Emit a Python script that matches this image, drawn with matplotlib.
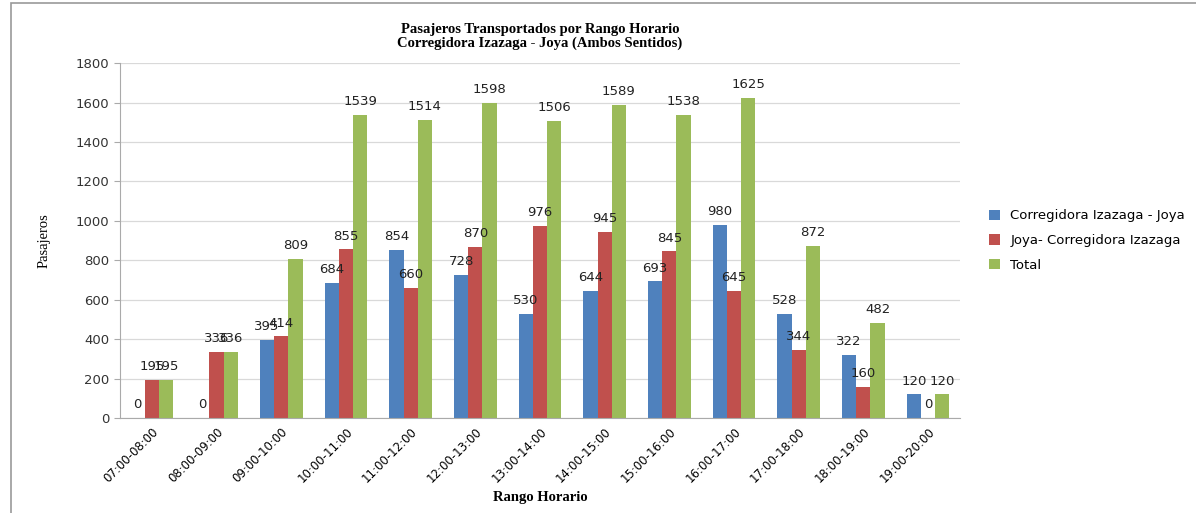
import matplotlib.pyplot as plt
import numpy as np
from matplotlib.patches import Rectangle

rangos = ["07:00-08:00", "08:00-09:00", "09:00-10:00", "10:00-11:00", "11:00-12:00",
          "12:00-13:00", "13:00-14:00", "14:00-15:00", "15:00-16:00", "16:00-17:00",
          "17:00-18:00", "18:00-19:00", "19:00-20:00"]
corr_joya = [0, 0, 395, 684, 854, 728, 530, 644, 693, 980, 528, 322, 120]
joya_corr = [195, 336, 414, 855, 660, 870, 976, 945, 845, 645, 344, 160, 0]
total = [195, 336, 809, 1539, 1514, 1598, 1506, 1589, 1538, 1625, 872, 482, 120]

series = [
    ("Corregidora Izazaga - Joya", corr_joya, "#4F81BD"),
    ("Joya- Corregidora Izazaga", joya_corr, "#C0504D"),
    ("Total", total, "#9BBB59"),
]

fig = plt.figure(figsize=(11.96, 5.13), dpi=100)
ax = fig.add_axes([0.100, 0.185, 0.703, 0.692])

x = np.arange(len(rangos))
w = 0.22
for i, (name, vals, col) in enumerate(series):
    pos = x + (i - 1) * w
    ax.bar(pos, vals, w, color=col, label=name)
    for p, v in zip(pos, vals):
        ax.text(p, v + 35, f"{v}", ha="center", va="bottom", fontsize=9.5, color="#222222")

ax.set_xlim(-0.5, len(rangos) - 0.5)
ax.set_ylim(0, 1800)
ax.set_yticks(range(0, 1801, 200))
ax.set_xticks(x)
ax.set_xticklabels(rangos, rotation=45, ha="right", rotation_mode="anchor", fontsize=8.5)
ax.tick_params(axis="y", labelsize=9.5, colors="#333333", length=4, color="#AAAAAA")
ax.tick_params(axis="x", length=0, pad=5)
ax.grid(axis="y", color="#D9D9D9", linewidth=0.9)
ax.set_axisbelow(True)
for s in ["top", "right"]:
    ax.spines[s].set_visible(False)
ax.spines["left"].set_color("#AAAAAA")
ax.spines["bottom"].set_color("#AAAAAA")

ax.set_ylabel("Pasajeros", family="Liberation Serif", fontsize=10.5, labelpad=18)
ax.set_xlabel("Rango Horario", family="Liberation Serif", fontsize=10.5, fontweight="bold")
ax.xaxis.set_label_coords(0.5, -0.205)
ax.set_title("Pasajeros Transportados por Rango Horario\nCorregidora Izazaga - Joya (Ambos Sentidos)",
             family="Liberation Serif", fontsize=10.5, fontweight="bold", pad=12, linespacing=1.0)

ax.legend(loc="center left", bbox_to_anchor=(1.02, 0.5), frameon=False, fontsize=9.5,
          handlelength=0.8, handleheight=0.8, labelspacing=0.9)

fig.patches.append(Rectangle((0.009, -0.01), 1.0, 1.004, transform=fig.transFigure,
                             fill=False, edgecolor="#999999", linewidth=1.2))

fig.savefig("out.png", dpi=100)
